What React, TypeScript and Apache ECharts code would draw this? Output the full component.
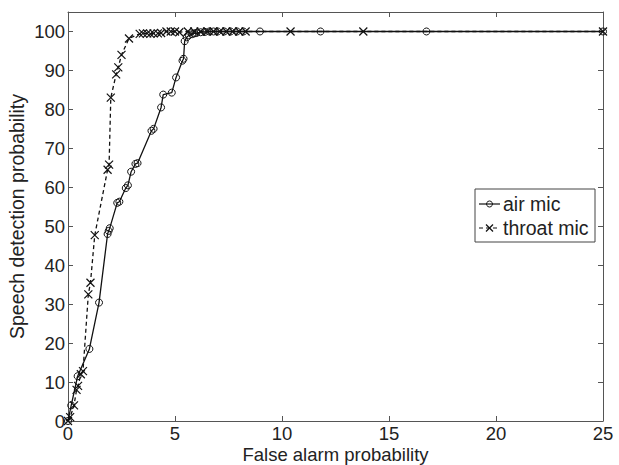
import React, { useEffect, useRef } from "react";
import * as echarts from "echarts";

const xTicks = [0, 5, 10, 15, 20, 25];
const yTicks = [0, 10, 20, 30, 40, 50, 60, 70, 80, 90, 100];

const seriesNames = ["air mic", "throat mic"];

const airMic: [number, number][] = [
  [0, 0], [0.15, 4], [0.45, 11.5], [1.0, 18.5], [1.45, 30.4], [1.85, 48], [1.9, 48.8], [1.95, 49.5],
  [2.3, 56], [2.4, 56.3], [2.7, 59.8], [2.8, 60.5], [2.95, 64], [3.15, 66], [3.25, 66.2],
  [3.9, 74.5], [4.0, 75], [4.35, 80.5], [4.45, 83.8], [4.85, 84.3], [5.05, 88.2], [5.35, 92.5],
  [5.4, 93], [5.45, 97.5], [5.55, 98.5], [5.65, 99], [5.8, 99.3], [5.9, 99.5], [6.0, 99.6],
  [6.2, 99.8], [6.4, 99.9], [6.6, 100], [6.8, 100], [7.0, 100], [7.3, 100], [7.6, 100],
  [7.9, 100], [8.2, 100], [8.97, 100], [11.8, 100], [16.75, 100], [25, 100],
];

const throatMic: [number, number][] = [
  [0, 0], [0.1, 1], [0.28, 4], [0.4, 8], [0.47, 9], [0.6, 12], [0.7, 12.8], [0.95, 32.5],
  [1.05, 35.5], [1.25, 47.7], [1.85, 64.5], [1.92, 65.8], [2.0, 83], [2.25, 89], [2.35, 90.8],
  [2.5, 94], [2.85, 98.2], [3.35, 99.4], [3.5, 99.5], [3.7, 99.5], [3.85, 99.4], [4.0, 99.5],
  [4.2, 99.5], [4.35, 99.6], [4.6, 100], [4.8, 100], [5.0, 100], [5.2, 99.8], [5.6, 100],
  [5.9, 100], [6.2, 100], [6.5, 100], [6.8, 100], [7.1, 100], [7.4, 100], [7.7, 100],
  [8.0, 100], [8.3, 100], [10.4, 100], [13.8, 100], [25, 100],
];

const FONT = "'Liberation Sans', Arial, sans-serif";
const CROSS = "path://M0 0L10 10M10 0L0 10";

export default function App() {
  const ref = useRef<HTMLDivElement>(null);
  useEffect(() => {
    if (!ref.current) return;
    const chart = echarts.init(ref.current, null, { renderer: "svg" });
    const axisLine = { show: true, onZero: false, lineStyle: { color: "#555", width: 1 } };
    const axisTick = { show: true, inside: true, length: 5, lineStyle: { color: "#555" } };
    const labelStyle = { color: "#222", fontSize: 18.5, fontFamily: FONT, lineHeight: 16 };
    chart.setOption({
      animation: false,
      backgroundColor: "#fff",
      grid: { left: 68, right: 16, top: 12, bottom: 44, containLabel: false, outerBoundsMode: "none" },
      xAxis: [
        {
          type: "value", min: xTicks[0], max: xTicks[xTicks.length - 1], interval: 5,
          position: "bottom",
          name: "False alarm probability", nameLocation: "middle", nameGap: 25, nameMoveOverlap: false,
          nameTextStyle: { color: "#222", fontSize: 18.5, fontFamily: FONT, lineHeight: 16 },
          axisLine, axisTick, splitLine: { show: false },
          axisLabel: { ...labelStyle, margin: 4 },
        },
        {
          type: "value", min: 0, max: 25, interval: 5, position: "top",
          axisLine, axisTick, splitLine: { show: false }, axisLabel: { show: false },
        },
      ],
      yAxis: [
        {
          type: "value", min: 0, max: 105, interval: 10, position: "left",
          name: "Speech detection probability", nameLocation: "middle", nameGap: 41, nameMoveOverlap: false,
          nameTextStyle: { color: "#222", fontSize: 19.5, fontFamily: FONT, lineHeight: 20 },
          axisLine, axisTick, splitLine: { show: false },
          axisLabel: {
            ...labelStyle, margin: 3,
            formatter: (v: number) => (yTicks.includes(v) ? String(v) : ""),
          },
        },
        {
          type: "value", min: 0, max: 105, interval: 10, position: "right",
          axisLine, axisTick, splitLine: { show: false }, axisLabel: { show: false },
        },
      ],
      series: [
        {
          name: seriesNames[0], type: "line", data: airMic, xAxisIndex: 0, yAxisIndex: 0,
          symbol: "circle", symbolSize: 7, showAllSymbol: true,
          lineStyle: { color: "#111", width: 1.3 },
          itemStyle: { color: "rgba(0,0,0,0)", borderColor: "#111", borderWidth: 1 },
        },
        {
          name: seriesNames[1], type: "line", data: throatMic, xAxisIndex: 0, yAxisIndex: 0,
          symbol: CROSS, symbolSize: 8, showAllSymbol: true,
          lineStyle: { color: "#111", width: 1.3, type: [4, 3] },
          itemStyle: { color: "rgba(0,0,0,0)", borderColor: "#111", borderWidth: 1.2 },
        },
      ],
      graphic: [
        {
          type: "rect", shape: { x: 475, y: 189, width: 120, height: 53 },
          style: { fill: "#fff", stroke: "#444", lineWidth: 1 }, z: 100,
        },
        {
          type: "line", shape: { x1: 479, y1: 204, x2: 500, y2: 204 },
          style: { stroke: "#111", lineWidth: 1.2 }, z: 101,
        },
        {
          type: "circle", shape: { cx: 489.5, cy: 204, r: 3 },
          style: { fill: "rgba(0,0,0,0)", stroke: "#111", lineWidth: 1 }, z: 102,
        },
        {
          type: "text", x: 503, y: 204,
          style: { text: seriesNames[0], fill: "#222", fontSize: 19.5, fontFamily: FONT, verticalAlign: "middle" },
          z: 101,
        },
        {
          type: "line", shape: { x1: 479, y1: 228, x2: 500, y2: 228 },
          style: { stroke: "#111", lineWidth: 1.2, lineDash: [4, 3] }, z: 101,
        },
        {
          type: "polyline", shape: { points: [[486, 224.5], [493, 231.5]] },
          style: { stroke: "#111", lineWidth: 1.2, fill: null }, z: 102,
        },
        {
          type: "polyline", shape: { points: [[493, 224.5], [486, 231.5]] },
          style: { stroke: "#111", lineWidth: 1.2, fill: null }, z: 102,
        },
        {
          type: "text", x: 503, y: 228,
          style: { text: seriesNames[1], fill: "#222", fontSize: 19.5, fontFamily: FONT, verticalAlign: "middle" },
          z: 101,
        },
      ],
    });
    return () => chart.dispose();
  }, []);
  return <div ref={ref} style={{ width: 619, height: 465, position: "absolute", left: 0, top: 0 }} />;
}
